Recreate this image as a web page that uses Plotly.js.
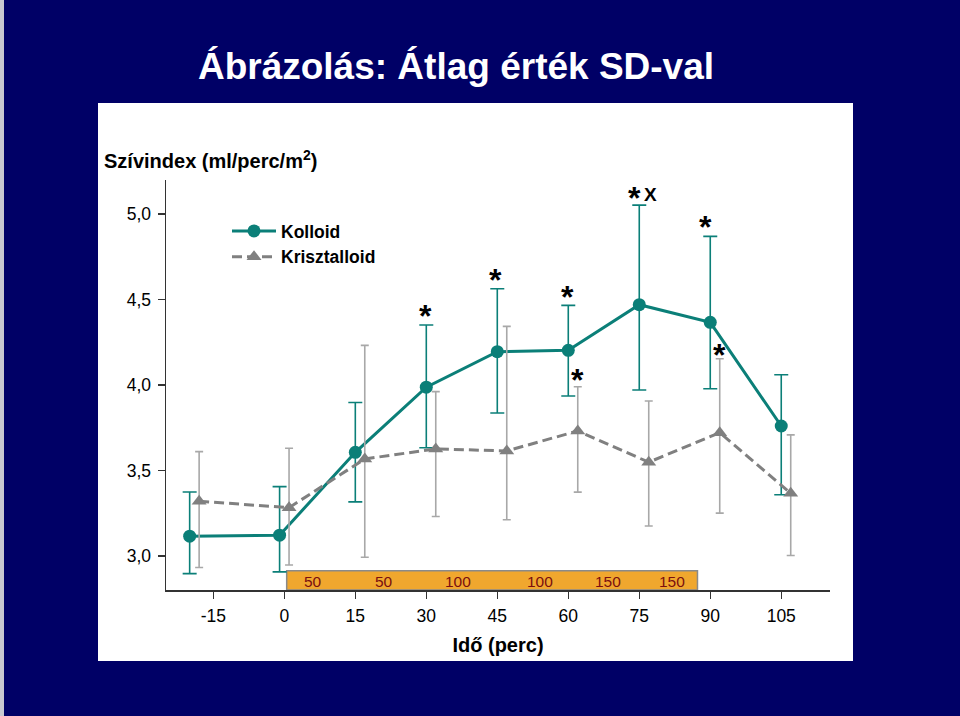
<!DOCTYPE html>
<html>
<head>
<meta charset="utf-8">
<script src="https://cdn.plot.ly/plotly-3.0.1.min.js"></script>
<style>html,body{margin:0;padding:0;background:#000066;}#chart{width:960px;height:716px;}</style>
</head>
<body>
<div id="chart"></div>
<script>
// ---- data ----
const timeTicks = [-15, 0, 15, 30, 45, 60, 75, 90, 105];
const timeTickText = ['-15', '0', '15', '30', '45', '60', '75', '90', '105'];
const kolloidX = [-20, -1, 15, 30, 45, 60, 75, 90, 105];
const kolloidMean = [3.115, 3.121, 3.606, 3.987, 4.195, 4.203, 4.470, 4.367, 3.760];
const kolloidSDplus = [0.259, 0.284, 0.292, 0.364, 0.368, 0.263, 0.583, 0.503, 0.300];
const kolloidSDminus = [0.219, 0.215, 0.290, 0.354, 0.359, 0.267, 0.499, 0.389, 0.402];
const krisztX = [-18, 1, 17, 32, 47, 62, 77, 92, 107];
const krisztMean = [3.320, 3.282, 3.567, 3.626, 3.614, 3.731, 3.548, 3.721, 3.366];
const krisztSDplus = [0.290, 0.348, 0.665, 0.335, 0.729, 0.259, 0.358, 0.433, 0.342];
const krisztSDminus = [0.388, 0.336, 0.575, 0.396, 0.403, 0.358, 0.373, 0.471, 0.364];
const doseLabels = ['50', '50', '100', '100', '150', '150'];
const doseLabelX = [6, 21, 36.7, 54, 68.4, 82];
const infusionStart = 0.5, infusionEnd = 87.3;
const kolloidStarIdx = [3, 4, 5, 6, 7];
const krisztStarIdx = [5, 7];

// ---- layout constants ----
const W = 960, H = 716;
const M = {l: 166, r: 130, t: 180, b: 126};
const FONT = 'Liberation Sans, Arial, sans-serif';
const TEAL = '#0b7f78';
const GRAY = '#808080';
const yRange = [2.80, 5.20];
const xRange = [-25, 115.3];
const pw = W - M.l - M.r, ph = H - M.t - M.b;
const pxX = p => (p - M.l) / pw;          // pixel -> paper x
const pxY = p => (H - M.b - p) / ph;      // pixel -> paper y

const traces = [
  {
    name: 'Kolloid', type: 'scatter', mode: 'lines+markers',
    x: kolloidX, y: kolloidMean,
    line: {color: TEAL, width: 3},
    marker: {symbol: 'circle', size: 13, color: TEAL},
    error_y: {type: 'data', symmetric: false, array: kolloidSDplus, arrayminus: kolloidSDminus,
              color: TEAL, thickness: 1.6, width: 7}
  },
  {
    name: 'Krisztalloid', type: 'scatter', mode: 'lines+markers',
    x: krisztX, y: krisztMean,
    line: {color: GRAY, width: 3, dash: '10px,5px'},
    marker: {symbol: 'triangle-up', size: 13, color: GRAY},
    error_y: {type: 'data', symmetric: false, array: krisztSDplus, arrayminus: krisztSDminus,
              color: '#a8a8a8', thickness: 1.6, width: 4}
  }
];

const annotations = [];
// y-axis title (horizontal, top-left)
annotations.push({
  xref: 'paper', yref: 'paper', x: pxX(102), y: pxY(160), xanchor: 'left', yanchor: 'middle',
  text: '<b>Szívindex (ml/perc/m<sup>2</sup>)</b>', showarrow: false,
  font: {family: FONT, size: 20, color: '#000'}
});
// dose labels in the infusion bar
doseLabels.forEach((t, i) => annotations.push({
  xref: 'x', yref: 'y', x: doseLabelX[i], y: 2.852, text: t, showarrow: false,
  xanchor: 'center', yanchor: 'middle', font: {family: FONT, size: 15.5, color: '#7a0f0f'}
}));
// significance stars (placed above the SD caps)
const kStarDx = [-1, -2, -1, -5, -5];
const kStarUp = [13, 13, 12, 11, 13];
kolloidStarIdx.forEach((idx, j) => annotations.push({
  xref: 'x', yref: 'y', x: kolloidX[idx], y: kolloidMean[idx] + kolloidSDplus[idx],
  text: '<b>*</b>', showarrow: false, xanchor: 'center', yanchor: 'middle',
  xshift: kStarDx[j], yshift: kStarUp[j] - 4, font: {family: FONT, size: 32, color: '#000'}
}));
const cStarUp = [10, 7];
krisztStarIdx.forEach((idx, j) => annotations.push({
  xref: 'x', yref: 'y', x: krisztX[idx], y: krisztMean[idx] + krisztSDplus[idx],
  text: '<b>*</b>', showarrow: false, xanchor: 'center', yanchor: 'middle',
  xshift: 0, yshift: cStarUp[j] - 3, font: {family: FONT, size: 32, color: '#000'}
}));
annotations.push({
  xref: 'x', yref: 'y', x: kolloidX[6], y: kolloidMean[6] + kolloidSDplus[6],
  text: '<b>X</b>', showarrow: false, xanchor: 'center', yanchor: 'middle',
  xshift: 11, yshift: 11, font: {family: FONT, size: 19, color: '#000'}
});

const shapes = [
  // white panel
  {type: 'rect', xref: 'paper', yref: 'paper', layer: 'below',
   x0: pxX(98), x1: pxX(853), y0: pxY(661), y1: pxY(103),
   fillcolor: '#ffffff', line: {width: 0}},
  // light left edge strip
  {type: 'rect', xref: 'paper', yref: 'paper', layer: 'below',
   x0: pxX(0), x1: pxX(4), y0: pxY(716), y1: pxY(0),
   fillcolor: '#c8c8d0', line: {width: 0}},
  // infusion bar
  {type: 'rect', xref: 'x', yref: 'y', layer: 'below',
   x0: infusionStart, x1: infusionEnd, y0: yRange[0], y1: 2.912,
   fillcolor: '#f0a72e', line: {color: '#8a8a8a', width: 1.5}}
];

const layout = {
  width: W, height: H,
  margin: M,
  paper_bgcolor: '#000066',
  plot_bgcolor: '#ffffff',
  separators: ',.',
  showlegend: true,
  title: {
    text: '<b>Ábrázolás: Átlag érték SD-val</b>',
    font: {family: FONT, size: 37, color: '#ffffff'},
    x: 456 / W, xanchor: 'center', xref: 'container',
    y: 1 - 66 / H, yanchor: 'middle', yref: 'container'
  },
  legend: {
    x: pxX(227), y: pxY(213), xanchor: 'left', yanchor: 'top',
    bgcolor: 'rgba(0,0,0,0)', borderwidth: 0,
    font: {family: FONT, size: 17.5, color: '#000', weight: 'bold'},
    itemwidth: 44, tracegroupgap: 0
  },
  xaxis: {
    range: xRange, tickmode: 'array', tickvals: timeTicks, ticktext: timeTickText,
    showgrid: false, zeroline: false,
    showline: true, linecolor: '#333', linewidth: 1.5,
    ticks: 'outside', ticklen: 7, tickwidth: 1.5, tickcolor: '#333',
    ticklabelstandoff: 2,
    tickfont: {family: FONT, size: 17.5, color: '#000'},
    title: {text: '<b>Idő (perc)</b>', font: {family: FONT, size: 20, color: '#000'}, standoff: 13}
  },
  yaxis: {
    range: yRange, tick0: 3, dtick: 0.5, tickformat: '.1f',
    showgrid: false, zeroline: false,
    showline: true, linecolor: '#333', linewidth: 1.5,
    ticks: 'outside', ticklen: 7, tickwidth: 1.5, tickcolor: '#333',
    ticklabelstandoff: 3,
    tickfont: {family: FONT, size: 17.5, color: '#000'}
  },
  annotations: annotations,
  shapes: shapes
};

Plotly.newPlot('chart', traces, layout, {displayModeBar: false, staticPlot: true});
</script>
</body>
</html>
